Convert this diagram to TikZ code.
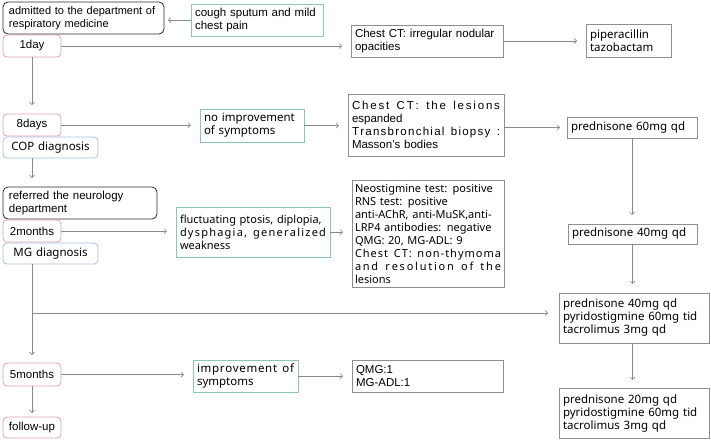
\documentclass[tikz,border=0pt]{standalone}
\usepackage{fontspec}
\setmainfont{Liberation Sans}
\newfontfamily\yh{Noto Sans}
\usetikzlibrary{arrows.meta}
\definecolor{pk}{HTML}{E0A2A8}
\definecolor{bl}{HTML}{A6C0DC}
\definecolor{tl}{HTML}{8CC7B2}
\definecolor{gb}{HTML}{8E8E8E}
\definecolor{ar}{HTML}{8A8A8A}
\definecolor{bk}{HTML}{2A2A2A}
\makeatletter
\def\sprd#1{\leavevmode\hbox to \hsize{\sprd@#1\relax}}
\def\sprd@#1{\ifx#1\relax\unskip\else#1\hskip 0pt plus 1fil\relax\expandafter\sprd@\fi}
\makeatother
\tikzset{
  bx/.style={draw, anchor=north west, inner xsep=4pt, inner ysep=0pt, outer sep=0pt,
    align=left, line width=0.8pt, font=\fontsize{11.5}{13}\selectfont},
  yhf/.style={font=\yh\fontsize{11}{13}\selectfont},
  yhb/.style={font=\yh\fontsize{11.5}{13}\selectfont},
  blk/.style={bx, draw=bk, rounded corners=5pt},
  timebox/.style={bx, draw=pk, rounded corners=4pt, align=center},
  diag/.style={bx, draw=bl, rounded corners=4pt, align=center, yhb},
  symp/.style={bx, draw=tl},
  gbox/.style={bx, draw=gb},
  arr/.style={draw=ar, line width=0.7pt, -{Straight Barb[length=2.5pt,width=5pt]}, shorten >=9pt}
}
\begin{document}
\begin{tikzpicture}[x=1pt,y=-1pt]
\useasboundingbox (0,0) rectangle (711,440);
% left column
\node[blk, inner xsep=6pt, text width=149pt, minimum height=32pt, font=\fontsize{11}{13}\selectfont] (admit) at (3,2) {admitted to the department of\\respiratory medicine};
\node[symp, text width=124pt, minimum height=32pt] (cough) at (191,4) {cough sputum and mild\\chest pain};
\node[timebox, text width=50pt, minimum height=22pt] (day1) at (3,35) {1day};
\node[timebox, text width=50pt, minimum height=22pt] (day8) at (3,114) {8days};
\node[diag, text width=87pt, minimum height=21pt] (cop) at (3,137) {COP diagnosis};
\node[blk, inner xsep=6pt, text width=142pt, minimum height=32pt] (refer) at (3,187) {referred the neurology\\department};
\node[timebox, text width=50pt, minimum height=22pt] (mon2) at (3,220) {2months};
\node[diag, text width=87pt, minimum height=21pt] (mgd) at (3,243) {MG diagnosis};
\node[timebox, text width=50pt, minimum height=23pt] (mon5) at (3,363) {5months};
\node[timebox, text width=50pt, minimum height=21pt] (follow) at (3,417) {follow-up};
% middle column
\node[symp, yhb, text width=96pt, minimum height=33pt] (noimp) at (200,109) {no improvement\\of symptoms};
\node[symp, yhf, text width=146pt, minimum height=50pt] (fluct) at (176,207) {fluctuating ptosis, diplopia,\\\sprd{dysphagia,~generalized}\\weakness};
\node[symp, yhb, text width=97pt, minimum height=32pt] (impr) at (193,360) {\sprd{improvement~of}\\symptoms};
% right-middle column
\node[gbox, text width=144pt, minimum height=32pt] (ct1) at (351,25) {Chest CT: irregular nodular\\opacities};
\node[gbox, text width=148pt, minimum height=62pt] (ct2) at (348,94) {\sprd{Chest~CT:~the~lesions}\\espanded\\\sprd{Transbronchial~biopsy~:}\\Masson's bodies};
\node[gbox, yhf, inner xsep=3pt, text width=146pt, minimum height=107pt] (neo) at (352,180) {Neostigmine test: positive\\RNS test: positive\\anti-AChR, anti-MuSK,anti-\\LRP4 antibodies: negative\\QMG: 20, MG-ADL: 9\\\sprd{Chest~CT:~non-thymoma}\\\sprd{and~resolution~of~the}\\lesions};
\node[gbox, text width=143pt, minimum height=32pt] (qmg) at (352,360) {QMG:1\\MG-ADL:1};
% right column
\node[gbox, yhb, text width=77pt, minimum height=33pt] (pip) at (586,24) {piperacillin\\tazobactam};
\node[gbox, yhb, text width=122pt, minimum height=21pt] (pred60) at (567,117) {prednisone 60mg qd};
\node[gbox, yhb, text width=121pt, minimum height=20pt] (pred40) at (568,224) {prednisone 40mg qd};
\node[gbox, yhb, text width=142pt, minimum height=50pt] (drug1) at (559,293) {prednisone 40mg qd\\pyridostigmine 60mg tid\\tacrolimus 3mg qd};
\node[gbox, yhb, text width=142pt, minimum height=50pt] (drug2) at (559,388) {prednisone 20mg qd\\pyridostigmine 60mg tid\\tacrolimus 3mg qd};
% connectors
\draw[arr, shorten >=4pt] (cough.west) -- (cough.west -| admit.east);
\draw[arr] (day1.east) -- (day1.east -| ct1.west);
\draw[arr] (ct1.east) -- (ct1.east -| pip.west);
\draw[arr] (day1.south) -- (day8.north);
\draw[arr] (day8.east) -- (day8.east -| noimp.west);
\draw[arr] (noimp.east) -- (noimp.east -| ct2.west);
\draw[arr, shorten >=7pt] (ct2.east |- pred60.west) -- (pred60.west);
\draw[arr] (pred60.south) -- (pred60.south |- pred40.north);
\draw[arr] (cop.south -| day8.south) -- (refer.north -| day8.south);
\draw[arr] (mon2.east) -- (mon2.east -| fluct.west);
\draw[arr] (fluct.east) -- (fluct.east -| neo.west);
\draw[arr] (pred40.south) -- (pred40.south |- drug1.north);
\draw[arr, shorten >=8pt] (mgd.south -| mon2.south) -- (mon5.north);
\coordinate (br) at (32,313);
\draw[arr, shorten >=11pt] (br) -- (br -| drug1.west);
\draw[arr] (mon5.east) -- (mon5.east -| impr.west);
\draw[arr] (impr.east) -- (impr.east -| qmg.west);
\draw[arr, shorten >=4pt] (mon5.south) -- (follow.north);
\draw[arr, shorten >=8pt] (drug1.south -| pred40.south) -- (drug2.north -| pred40.south);
\end{tikzpicture}
\end{document}
